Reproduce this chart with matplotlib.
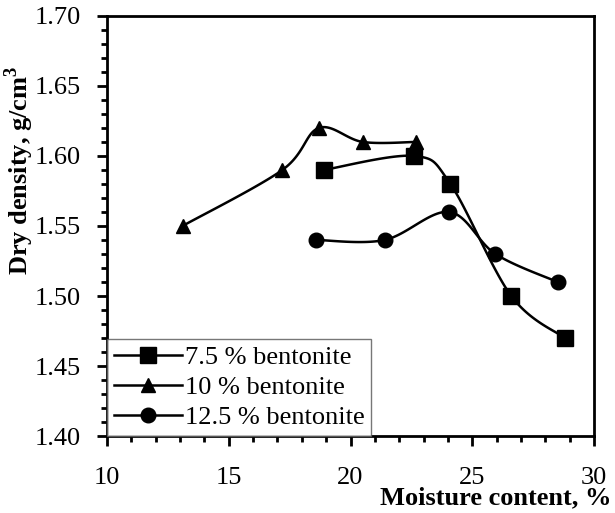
import numpy as np
import matplotlib.pyplot as plt
from matplotlib.ticker import MultipleLocator

plt.rcParams['font.family'] = ['Liberation Serif', 'DejaVu Serif']

# 데이터
x_75 = [18.9, 22.6, 24.1, 26.6, 28.8]
y_75 = [1.59, 1.60, 1.58, 1.50, 1.47]
x_10 = [13.1, 17.2, 18.7, 20.5, 22.7]
y_10 = [1.55, 1.59, 1.62, 1.61, 1.61]
x_125 = [18.6, 21.4, 24.05, 25.95, 28.5]
y_125 = [1.54, 1.54, 1.56, 1.53, 1.51]
labels = ['7.5 % bentonite', '10 % bentonite', '12.5 % bentonite']


def smooth(x, y, n=30):
    # Excel 식 부드러운 선 (Catmull-Rom)
    p = np.column_stack([x, y])
    p = np.vstack([p[0], p, p[-1]])
    out = []
    t = np.linspace(0, 1, n)[:, None]
    for i in range(1, len(p) - 2):
        p0, p1, p2, p3 = p[i - 1], p[i], p[i + 1], p[i + 2]
        seg = 0.5 * ((2 * p1) + (-p0 + p2) * t + (2 * p0 - 5 * p1 + 4 * p2 - p3) * t ** 2
                     + (-p0 + 3 * p1 - 3 * p2 + p3) * t ** 3)
        out.append(seg)
    out = np.vstack(out)
    return out[:, 0], out[:, 1]


fig = plt.figure(figsize=(6.15, 5.13), dpi=100)
ax = fig.add_axes([0.174, 0.150, 0.792, 0.819])

for xs, ys, m, ms, lab in [(x_75, y_75, 's', 11, labels[0]),
                           (x_10, y_10, '^', 10.5, labels[1]),
                           (x_125, y_125, 'o', 10.5, labels[2])]:
    sx, sy = smooth(xs, ys)
    ax.plot(sx, sy, color='black', lw=1.8, zorder=2)
    ax.plot(xs, ys, ls='none', marker=m, ms=ms, color='black', zorder=3)
    ax.plot([], [], color='black', lw=1.8, marker=m, ms=ms, label=lab)

ax.set_xlim(10, 30)
ax.set_ylim(1.40, 1.70)
ax.xaxis.set_major_locator(MultipleLocator(5))
ax.xaxis.set_minor_locator(MultipleLocator(1))
ax.yaxis.set_major_locator(MultipleLocator(0.05))
ax.yaxis.set_minor_locator(MultipleLocator(0.01))
ax.yaxis.set_major_formatter(plt.FormatStrFormatter('%.2f'))

ax.tick_params(which='major', direction='out', length=7, width=2, labelsize=19)
ax.tick_params(which='minor', direction='out', length=4.5, width=2)
ax.tick_params(axis='x', which='major', pad=15)
ax.tick_params(axis='y', which='major', pad=12)
for s in ax.spines.values():
    s.set_linewidth(2)

fig.text(19 / 615, 1 - 170 / 513, 'Dry density, g/cm$^\\mathregular{3}$', fontsize=19,
         fontweight='bold', rotation=90, ha='center', va='center')
fig.text(0.995, 0.008, 'Moisture content, %', fontsize=19, fontweight='bold',
         ha='right', va='bottom')

leg = ax.legend(loc='lower left', fontsize=19, handlelength=2.6, handletextpad=0.1,
                borderaxespad=0, labelspacing=0.25, fancybox=False, borderpad=0.25)
leg.get_frame().set_edgecolor('#555555')
leg.get_frame().set_linewidth(1)

plt.savefig('out.png', dpi=100)
